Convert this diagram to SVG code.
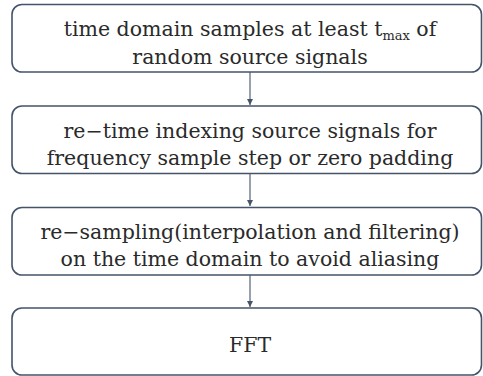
<svg xmlns="http://www.w3.org/2000/svg" width="483" height="376" viewBox="0 0 483 376">
<style>
.box{fill:#fff;stroke:#44546a;stroke-width:1.6}
.t{font-family:"DejaVu Serif","Liberation Serif",serif;font-size:20.5px;fill:#2a2a2a;text-anchor:middle}
.c{stroke:#44546a;stroke-width:1.1;fill:none}
</style>
<defs>
<marker id="ah" viewBox="0 0 10 10" refX="10" refY="5" markerWidth="6" markerHeight="6" markerUnits="userSpaceOnUse" orient="auto">
<path d="M0,0L10,5L0,10z" fill="#44546a"/>
</marker>
</defs>
<rect width="483" height="376" fill="#fff"/>
<g id="connectors">
<line class="c" x1="250" y1="72" x2="250" y2="105" marker-end="url(#ah)"/>
<line class="c" x1="250" y1="173" x2="250" y2="206" marker-end="url(#ah)"/>
<line class="c" x1="250" y1="275" x2="250" y2="307" marker-end="url(#ah)"/>
</g>
<g id="n1">
<rect class="box" x="12" y="4.5" width="469.5" height="67.5" rx="10"/>
<text class="t" x="250" y="36">time domain samples at least t<tspan font-size="13" dy="3.5">max</tspan><tspan dy="-3.5"> of</tspan></text>
<text class="t" x="250" y="63.5">random source signals</text>
</g>
<g id="n2">
<rect class="box" x="12" y="106" width="469.5" height="67.5" rx="10"/>
<text class="t" x="250" y="137.5">re−time indexing source signals for</text>
<text class="t" x="250" y="164.5">frequency sample step or zero padding</text>
</g>
<g id="n3">
<rect class="box" x="12" y="207.5" width="469.5" height="67.5" rx="10"/>
<text class="t" x="250" y="239">re−sampling(interpolation and filtering)</text>
<text class="t" x="250" y="266">on the time domain to avoid aliasing</text>
</g>
<g id="n4">
<rect class="box" x="12" y="308" width="469.5" height="67" rx="10"/>
<text class="t" x="250" y="351.5">FFT</text>
</g>
</svg>
